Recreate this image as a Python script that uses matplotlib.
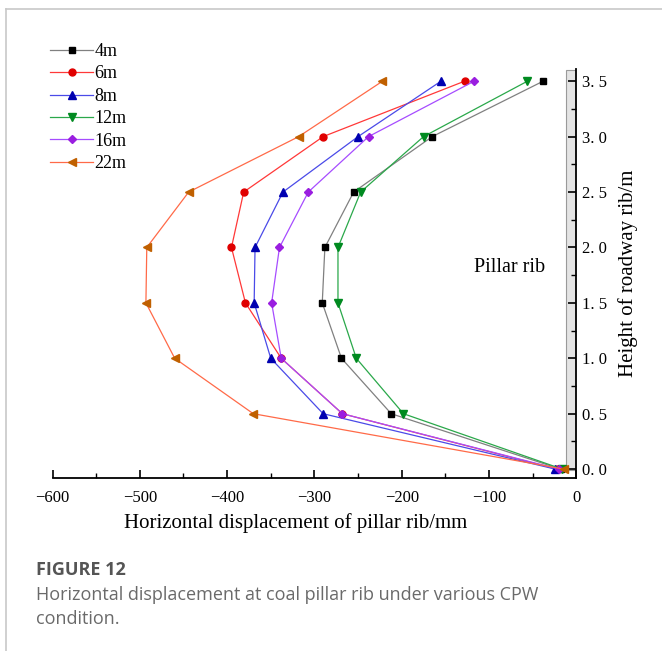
import matplotlib
matplotlib.use("Agg")
import matplotlib.pyplot as plt
from matplotlib.ticker import MultipleLocator, FuncFormatter
from matplotlib.lines import Line2D

heights = [0.0, 0.5, 1.0, 1.5, 2.0, 2.5, 3.0, 3.5]
labels = ["4m", "6m", "8m", "12m", "16m", "22m"]
disp_4m  = [-18, -212, -269, -291, -288, -255, -165, -38]
disp_6m  = [-22, -268, -338, -379, -395, -381, -290, -128]
disp_8m  = [-24, -290, -350, -369, -368, -336, -250, -155]
disp_12m = [-16, -198, -252, -273, -273, -247, -175, -56]
disp_16m = [-20, -268, -338, -349, -340, -307, -238, -117]
disp_22m = [-14, -370, -460, -493, -492, -444, -318, -222]
series = [disp_4m, disp_6m, disp_8m, disp_12m, disp_16m, disp_22m]

line_colors = ["#808080", "#ff3838", "#4a4ae8", "#2aa84a", "#a64cff", "#ff6a48"]
marker_colors = ["#000000", "#e00000", "#0000b0", "#008a20", "#9a1ee0", "#c06000"]
markers = ["s", "o", "^", "v", "D", "<"]
msizes = [4.5, 5, 5.5, 5.5, 4.5, 5.5]

plt.rcParams["font.family"] = ["Liberation Serif", "DejaVu Serif"]

W, H = 662, 651
fig = plt.figure(figsize=(W / 100, H / 100), dpi=100)

# outer frame lines
fig.add_artist(Line2D([6 / W, 6 / W], [0, 1 - 9 / H], color="#c8c8c8", lw=1.2))
fig.add_artist(Line2D([6 / W, 1], [1 - 9 / H, 1 - 9 / H], color="#c8c8c8", lw=1.2))

x0, x1 = 52.5, 576.3
y_top, y_bot = 69, 478
ax = fig.add_axes([x0 / W, (H - y_bot) / H, (x1 - x0) / W, (y_bot - y_top) / H])

ax.axvspan(-11.8, 0, ymin=0.02, ymax=0.997, facecolor="#e4e4e4",
           edgecolor="#9a9a9a", lw=0.8, zorder=1)

for vals, lab, lc, mc, mk, ms in zip(series, labels, line_colors, marker_colors, markers, msizes):
    ax.plot(vals, heights, color=lc, lw=0.9, marker=mk, markersize=ms,
            markerfacecolor=mc, markeredgecolor=mc, label=lab, zorder=3)

ax.set_xlim(-600, 0)
ax.set_ylim(-0.08, 3.61)
ax.spines["top"].set_visible(False)
ax.spines["left"].set_visible(False)
ax.spines["right"].set_linewidth(1.3)
ax.spines["bottom"].set_linewidth(1.3)
ax.yaxis.tick_right()
ax.yaxis.set_label_position("right")
ax.xaxis.set_major_locator(MultipleLocator(100))
ax.xaxis.set_minor_locator(MultipleLocator(50))
ax.yaxis.set_major_locator(MultipleLocator(0.5))
ax.yaxis.set_minor_locator(MultipleLocator(0.25))
ax.yaxis.set_major_formatter(FuncFormatter(lambda v, p: f"{v:.1f}".replace(".", ". ")))
ax.xaxis.set_major_formatter(FuncFormatter(lambda v, p: f"\u2212{abs(int(round(v)))}" if v < 0 else "0"))
ax.tick_params(axis="both", which="major", direction="in", length=6, width=1.2,
               labelsize=12, labelfontfamily="Liberation Serif")
ax.tick_params(axis="x", which="major", pad=9)
ax.tick_params(axis="y", which="major", pad=4)
ax.tick_params(axis="both", which="minor", direction="in", length=3.5, width=1.0)
ax.set_xlabel("Horizontal displacement of pillar rib/mm", fontsize=15, labelpad=4)
ax.xaxis.set_label_coords(0.465, -0.085)
ax.set_ylabel("Height of roadway rib/m", fontsize=15, labelpad=8, rotation=90)
ax.text(-76, 1.82, "Pillar rib", fontsize=14.5, ha="center", va="center")

leg = ax.legend(loc="upper left", bbox_to_anchor=(50 / W, 1 - 43 / H),
                bbox_transform=fig.transFigure, frameon=False,
                prop={"size": 13}, handlelength=2.4,
                handletextpad=0.05, labelspacing=0.3, borderpad=0, borderaxespad=0)

fig.text(36 / W, 1 - 570 / H, "FIGURE 12", fontfamily="Open Sans", fontweight="bold",
         fontsize=13, color="#555555", va="center")
fig.text(36 / W, 1 - 595 / H, "Horizontal displacement at coal pillar rib under various CPW",
         fontfamily="Open Sans", fontsize=13, color="#6a6a6a", va="center")
fig.text(36 / W, 1 - 619 / H, "condition.", fontfamily="Open Sans", fontsize=13,
         color="#6a6a6a", va="center")

fig.savefig("out.png", dpi=100)
